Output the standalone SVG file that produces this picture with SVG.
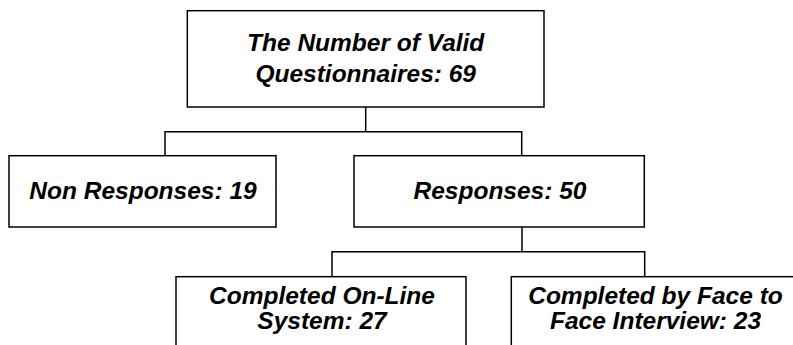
<svg xmlns="http://www.w3.org/2000/svg" width="793" height="345" viewBox="0 0 793 345">
<style>
.box{fill:#fff;stroke:#000;stroke-width:1.5}
.lbl{font-family:"Liberation Sans",Arial,sans-serif;font-weight:bold;font-style:italic;font-size:24.5px;fill:#000;text-anchor:middle}
.conn{fill:none;stroke:#000;stroke-width:1.5}
</style>
<rect width="793" height="345" fill="#fff"/>
<g id="connectors">
<path class="conn" d="M365.7 107V131.7M165 155.7V131.7H521.7V155.7"/>
<path class="conn" d="M522 227V251.7M332 276.7V251.7H644.7V276.7"/>
</g>
<g id="node-total">
<rect class="box" x="187.3" y="10.7" width="356.7" height="96.3"/>
<text class="lbl" x="365.7" y="50.7">The Number of Valid</text>
<text class="lbl" x="365.7" y="81.7">Questionnaires: 69</text>
</g>
<g id="node-nonresponses">
<rect class="box" x="9" y="155.7" width="267" height="71.3"/>
<text class="lbl" x="143" y="199">Non Responses: 19</text>
</g>
<g id="node-responses">
<rect class="box" x="354" y="155.7" width="290.3" height="71.3"/>
<text class="lbl" x="500" y="199">Responses: 50</text>
</g>
<g id="node-online">
<rect class="box" x="176" y="276.7" width="290" height="80"/>
<text class="lbl" x="322" y="304">Completed On-Line</text>
<text class="lbl" x="322" y="329">System: 27</text>
</g>
<g id="node-face">
<rect class="box" x="511.3" y="276.7" width="290" height="80"/>
<text class="lbl" x="655.5" y="304">Completed by Face to</text>
<text class="lbl" x="655.5" y="329">Face Interview: 23</text>
</g>
</svg>
